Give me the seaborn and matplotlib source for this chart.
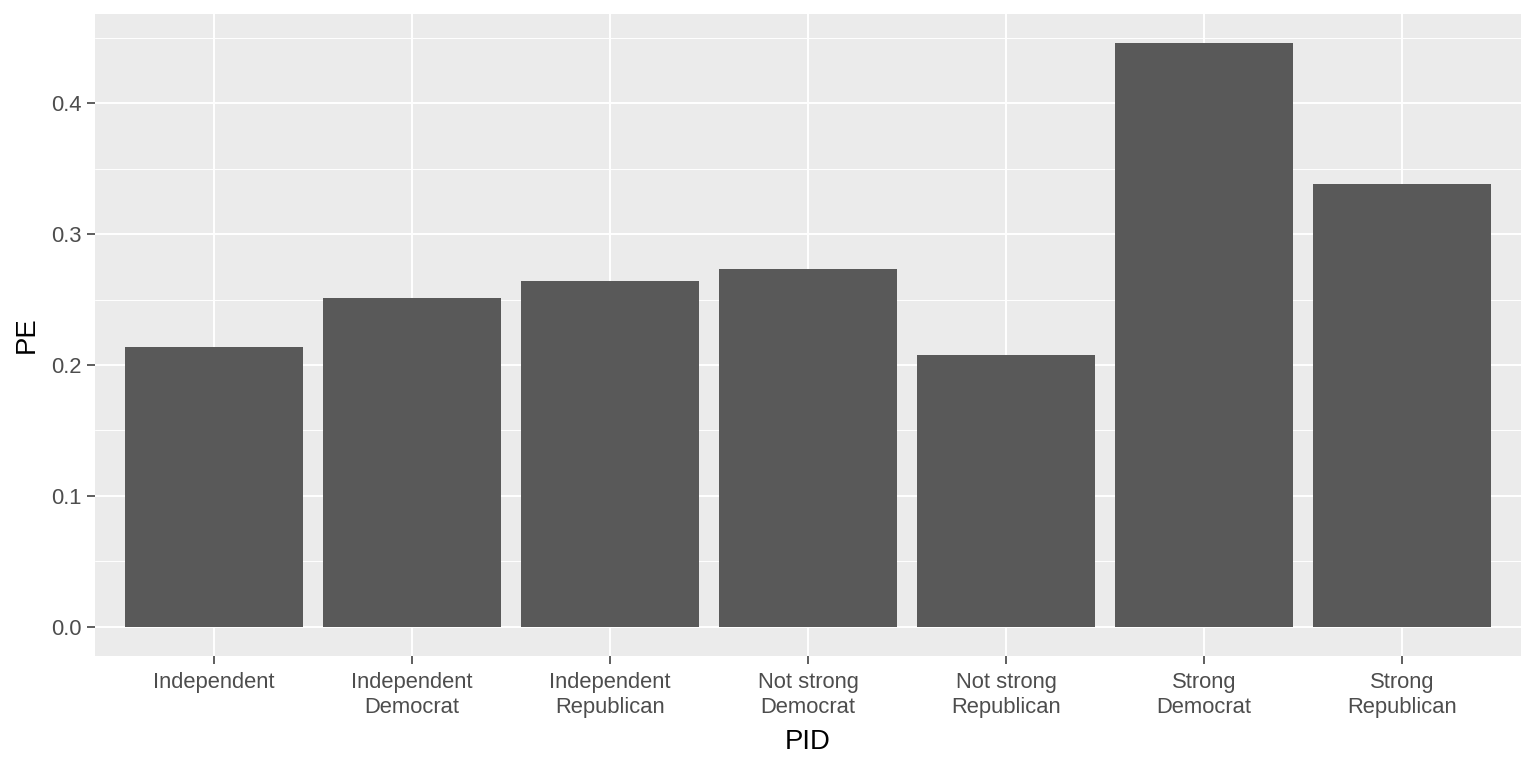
import numpy as np
import pandas as pd
import matplotlib
matplotlib.use("Agg")
import matplotlib.pyplot as plt
import seaborn as sns
from matplotlib.ticker import MultipleLocator, FormatStrFormatter

pid = ["Independent", "Independent\nDemocrat", "Independent\nRepublican",
       "Not strong\nDemocrat", "Not strong\nRepublican",
       "Strong\nDemocrat", "Strong\nRepublican"]
pe = [0.2137, 0.2511, 0.2641, 0.2733, 0.2076, 0.4458, 0.3382]

df = pd.DataFrame({"PID": pid, "PE": pe})

sns.set_style("darkgrid", {"axes.facecolor": "#EBEBEB", "grid.color": "white"})
plt.rcParams["font.family"] = ["Liberation Sans", "DejaVu Sans"]

fig = plt.figure(figsize=(15.36, 7.68), dpi=100)
ax = fig.add_axes([95 / 1536, 112 / 768, 1426 / 1536, 642 / 768])

sns.barplot(data=df, x="PID", y="PE", color="#595959", saturation=1,
            width=0.9, linewidth=0, edgecolor="none", ax=ax, zorder=3)

ymax = max(pe)
ax.set_ylim(-0.05 * ymax, 1.05 * ymax)
ax.set_xlim(-0.6, len(pid) - 0.4)
ax.yaxis.set_major_locator(MultipleLocator(0.1))
ax.yaxis.set_minor_locator(MultipleLocator(0.05))
ax.yaxis.set_major_formatter(FormatStrFormatter("%.1f"))

ax.grid(which="major", color="white", linewidth=1.4, zorder=1)
ax.grid(which="minor", axis="y", color="white", linewidth=0.7, zorder=1)
ax.set_axisbelow(True)
for s in ax.spines.values():
    s.set_visible(False)

ax.tick_params(axis="both", which="major", length=5.5, width=1.1, color="#333333",
               labelsize=15.8, labelcolor="#4D4D4D", pad=4, bottom=True, left=True)
ax.tick_params(axis="x", which="major", pad=6)
ax.tick_params(axis="y", which="minor", length=0)
for lab in ax.get_xticklabels():
    lab.set_linespacing(1.25)

ax.set_xlabel("PID", fontsize=19.8, color="black", labelpad=8)
ax.set_ylabel("PE", fontsize=19.8, color="black", labelpad=8)

fig.savefig("out.png", dpi=100)
